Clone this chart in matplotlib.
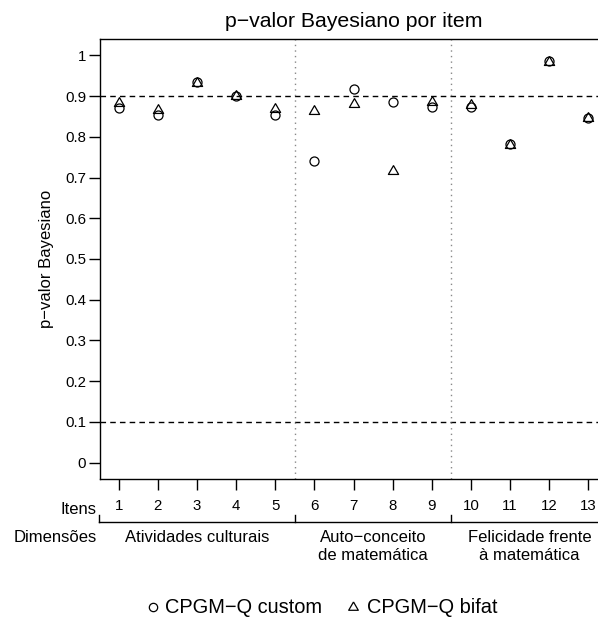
import numpy as np
import matplotlib
matplotlib.use("Agg")
import matplotlib.pyplot as plt
from matplotlib.lines import Line2D
from matplotlib.transforms import blended_transform_factory

plt.rcParams['font.family'] = ['Liberation Sans', 'DejaVu Sans']

# ---------------- dados ----------------
itens = np.arange(1, 14)
p_custom = [0.870, 0.853, 0.934, 0.899, 0.853, 0.741, 0.917, 0.885, 0.872, 0.874, 0.782, 0.987, 0.847]
p_bifat = [0.882, 0.866, 0.932, 0.900, 0.869, 0.863, 0.880, 0.716, 0.886, 0.878, 0.781, 0.984, 0.845]
limites = [0.5, 5.5, 9.5, 13.5]
dimensoes = [["Atividades culturais"],
             ["Auto\u2212conceito", "de matemática"],
             ["Felicidade frente", "à matemática"]]
referencias = [0.1, 0.9]
yticks = np.round(np.arange(0, 1.01, 0.1), 1)
ylabels = ["0"] + ["%.1f" % v for v in yticks[1:-1]] + ["1"]

W, H = 598, 621
fig = plt.figure(figsize=(W / 100, H / 100), dpi=100)

def fy(py):
    # posicao vertical em pixels (a partir do topo) -> fracao da figura
    return 1 - py / H

ax = fig.add_axes([100 / W, fy(479), 507 / W, 440 / H])
ax.set_xlim(0.52, 13.48)
ax.set_ylim(-0.04, 1.04)
for s in ax.spines.values():
    s.set_linewidth(1.0)
    s.set_color("black")

# triangulo no estilo do pch=2 do R (centro no baricentro)
tri = [(0, 1), (-0.866, -0.5), (0.866, -0.5), (0, 1)]

for v in referencias:
    ax.axhline(v, color="black", lw=1, linestyle=(0, (4, 3)))
for b in limites[1:-1]:
    ax.axvline(b, color="#888888", lw=1, linestyle=(0, (1, 3)))

ax.plot(itens, p_custom, linestyle="none", marker="o", ms=6.5,
        mfc="none", mec="black", mew=0.9)
ax.plot(itens, p_bifat, linestyle="none", marker=tri, ms=8.5,
        mfc="none", mec="black", mew=0.9)

ax.set_yticks(yticks)
ax.set_yticklabels(ylabels, fontsize=10.8)
ax.set_xticks(itens)
ax.set_xticklabels([])
ax.tick_params(axis="both", direction="out", length=8, width=1, pad=2)

# textos abaixo do eixo
bt = blended_transform_factory(ax.transData, fig.transFigure)
for i in itens:
    ax.text(i, fy(510), str(i), transform=bt, ha="center", va="baseline", fontsize=10.8)
fig.text(97 / W, fy(514), "Itens", ha="right", va="baseline", fontsize=12)

# chave das dimensoes
ax.plot([limites[0], limites[-1]], [fy(522)] * 2, transform=bt, color="black", lw=1, clip_on=False)
for b in limites:
    ax.plot([b, b], [fy(522), fy(515)], transform=bt, color="black", lw=1, clip_on=False)
fig.text(97 / W, fy(542), "Dimensões", ha="right", va="baseline", fontsize=12)
for k, linhas in enumerate(dimensoes):
    xc = (limites[k] + limites[k + 1]) / 2
    for j, t in enumerate(linhas):
        ax.text(xc, fy(542 + 18.5 * j), t, transform=bt, ha="center", va="baseline", fontsize=12)

fig.text(353.5 / W, fy(27), "p\u2212valor Bayesiano por item", ha="center", va="baseline", fontsize=15.3)
fig.text(47 / W, fy(259), "p\u2212valor Bayesiano", rotation=90, ha="center", va="center", fontsize=12)

# legenda
fig.add_artist(Line2D([153 / W], [fy(607)], marker="o", ms=6, mfc="none", mec="black", mew=0.9))
fig.text(165 / W, fy(613), "CPGM\u2212Q custom", ha="left", va="baseline", fontsize=14.4)
fig.add_artist(Line2D([353 / W], [fy(607)], marker=tri, ms=8, mfc="none", mec="black", mew=0.9))
fig.text(367 / W, fy(613), "CPGM\u2212Q bifat", ha="left", va="baseline", fontsize=14.4)

fig.savefig("out.png", dpi=100)
